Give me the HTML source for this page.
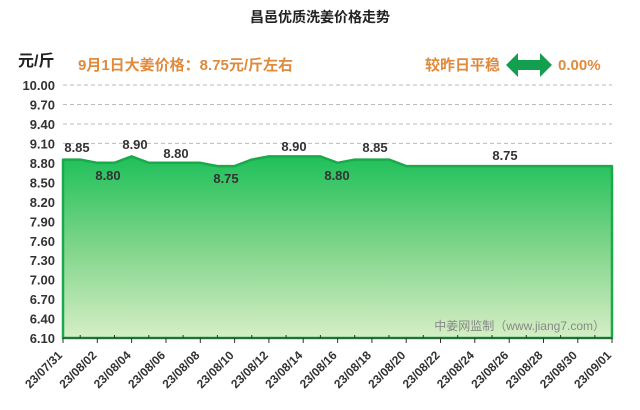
<!DOCTYPE html><html><head><meta charset="utf-8"><style>body{margin:0;background:#fff}svg{display:block}</style></head><body>
<svg width="640" height="410" xmlns="http://www.w3.org/2000/svg" font-family="Liberation Sans, Noto Sans CJK SC, sans-serif">
<defs><linearGradient id="g" x1="0" y1="0" x2="0" y2="1"><stop offset="0" stop-color="#1fc05a"/><stop offset="0.5" stop-color="#7fd58a"/><stop offset="1" stop-color="#d6eec6"/></linearGradient></defs>
<text x="320" y="22" text-anchor="middle" font-size="14" font-weight="bold" fill="#222">昌邑优质洗姜价格走势</text>
<text x="18" y="66" font-size="16" font-weight="bold" fill="#222">元/斤</text>
<text x="78" y="70" font-size="15" font-weight="bold" fill="#e08a3c">9月1日大姜价格：8.75元/斤左右</text>
<text x="425" y="70" font-size="15" font-weight="bold" fill="#e08a3c">较昨日平稳</text>
<polygon points="506,65 518,53 518,60 540,60 540,53 552,65 540,77 540,70 518,70 518,77" fill="#12a050"/>
<text x="558" y="70" font-size="15" font-weight="bold" fill="#e08a3c">0.00%</text>
<g stroke="#bbb" stroke-dasharray="4,3" stroke-width="1">
<line x1="63" x2="612" y1="85" y2="85"/><line x1="63" x2="612" y1="104.5" y2="104.5"/><line x1="63" x2="612" y1="124" y2="124"/><line x1="63" x2="612" y1="143.4" y2="143.4"/></g>
<g font-size="13" font-weight="bold" fill="#333" text-anchor="end">
<text x="55" y="90">10.00</text><text x="55" y="109.5">9.70</text><text x="55" y="129">9.40</text><text x="55" y="148.4">9.10</text><text x="55" y="167.9">8.80</text><text x="55" y="187.4">8.50</text><text x="55" y="206.8">8.20</text><text x="55" y="226.3">7.90</text><text x="55" y="245.8">7.60</text><text x="55" y="265.2">7.30</text><text x="55" y="284.7">7.00</text><text x="55" y="304.2">6.70</text><text x="55" y="323.6">6.40</text><text x="55" y="343">6.10</text></g>
<polygon points="63,338 63,159.6 80.2,159.6 97.3,162.8 114.5,162.8 131.6,156.4 148.8,162.8 200.3,162.8 217.4,166.1 234.6,166.1 251.8,159.6 268.9,156.4 320.4,156.4 337.6,162.8 354.7,159.6 389,159.6 406.2,166.1 612,166.1 612,338" fill="url(#g)" stroke="#1aaa4a" stroke-width="2.5" stroke-linejoin="round"/>
<line x1="63" x2="612" y1="338" y2="338" stroke="#333" stroke-width="1"/>
<g font-size="13" font-weight="bold" fill="#333" text-anchor="middle">
<text x="77" y="152">8.85</text><text x="108" y="180">8.80</text><text x="135" y="149">8.90</text><text x="176" y="158">8.80</text><text x="226" y="183">8.75</text><text x="294" y="151">8.90</text><text x="337" y="180">8.80</text><text x="375" y="152">8.85</text><text x="505" y="160">8.75</text></g>
<text x="605" y="330" text-anchor="end" font-size="12" fill="#888">中姜网监制（www.jiang7.com）</text>
<g font-size="12" font-weight="bold" fill="#333" text-anchor="end">
<text transform="translate(63,356) rotate(-45)">23/07/31</text>
<text transform="translate(97.3,356) rotate(-45)">23/08/02</text>
<text transform="translate(131.6,356) rotate(-45)">23/08/04</text>
<text transform="translate(166,356) rotate(-45)">23/08/06</text>
<text transform="translate(200.3,356) rotate(-45)">23/08/08</text>
<text transform="translate(234.6,356) rotate(-45)">23/08/10</text>
<text transform="translate(268.9,356) rotate(-45)">23/08/12</text>
<text transform="translate(303.2,356) rotate(-45)">23/08/14</text>
<text transform="translate(337.6,356) rotate(-45)">23/08/16</text>
<text transform="translate(371.9,356) rotate(-45)">23/08/18</text>
<text transform="translate(406.2,356) rotate(-45)">23/08/20</text>
<text transform="translate(440.5,356) rotate(-45)">23/08/22</text>
<text transform="translate(474.8,356) rotate(-45)">23/08/24</text>
<text transform="translate(509.2,356) rotate(-45)">23/08/26</text>
<text transform="translate(543.5,356) rotate(-45)">23/08/28</text>
<text transform="translate(577.8,356) rotate(-45)">23/08/30</text>
<text transform="translate(612,356) rotate(-45)">23/09/01</text></g>
<path stroke="#333" stroke-width="1" d="M63,338v5M97.3,338v5M131.6,338v5M166,338v5M200.3,338v5M234.6,338v5M268.9,338v5M303.2,338v5M337.6,338v5M371.9,338v5M406.2,338v5M440.5,338v5M474.8,338v5M509.2,338v5M543.5,338v5M577.8,338v5M612,338v5"/>
<path stroke="#333" stroke-width="1" d="M80.2,338v-3M114.5,338v-3M148.8,338v-3M183.1,338v-3M217.4,338v-3M251.8,338v-3M286.1,338v-3M320.4,338v-3M354.7,338v-3M389,338v-3M423.3,338v-3M457.7,338v-3M492,338v-3M526.3,338v-3M560.6,338v-3M594.9,338v-3"/>
</svg></body></html>
